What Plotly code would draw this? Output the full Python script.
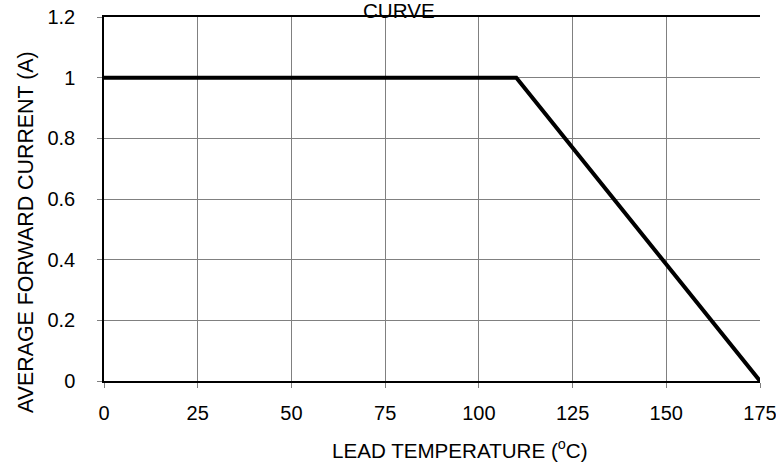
import plotly.graph_objects as go

temp_c = [0, 110, 175]
current_a = [1.0, 1.0, 0.0]
x_ticks = [0, 25, 50, 75, 100, 125, 150, 175]
y_ticks = [0, 0.2, 0.4, 0.6, 0.8, 1, 1.2]
y_tick_labels = ["0", "0.2", "0.4", "0.6", "0.8", "1", "1.2"]

fig = go.Figure()
fig.add_trace(go.Scatter(x=temp_c, y=current_a, mode="lines",
                         line=dict(color="black", width=4), showlegend=False,
                         cliponaxis=False))

fam = "Liberation Sans, Arial"
font = dict(family=fam, size=20, color="black")
L, R, T, B = 104, 16, 17, 83
W, H = 776, 464
pw, ph = W - L - R, H - T - B

fig.update_layout(
    width=W, height=H,
    margin=dict(l=L, r=R, t=T, b=B, autoexpand=False),
    paper_bgcolor="white", plot_bgcolor="white",
    font=font,
    xaxis=dict(range=[0, 175], tickvals=x_ticks, ticks="outside", ticklen=5,
               tickcolor="#7f7f7f", showgrid=True, gridcolor="#808080", gridwidth=1,
               showline=True, linecolor="black", linewidth=1.5, mirror=True,
               zeroline=False, tickfont=font, automargin=False,
               ticklabelstandoff=8, ticklabeloverflow="allow"),
    yaxis=dict(range=[0, 1.2], tickvals=y_ticks, ticktext=y_tick_labels,
               ticks="outside", ticklen=5, tickcolor="#7f7f7f",
               showgrid=True, gridcolor="#808080", gridwidth=1,
               showline=True, linecolor="black", linewidth=1.5, mirror=False,
               zeroline=False, tickfont=font, automargin=False,
               ticklabelstandoff=18, ticklabeloverflow="allow"),
    annotations=[
        dict(text="LEAD TEMPERATURE (<sup>o</sup>C)", xref="paper", yref="paper",
             x=(460 - L) / pw, y=-(449 - (H - B)) / ph, showarrow=False,
             xanchor="center", yanchor="middle",
             font=dict(family=fam, size=20.6, color="black")),
        dict(text="AVERAGE FORWARD CURRENT (A)", xref="paper", yref="paper",
             x=-(L - 26) / pw, y=((H - B) - 232) / ph, showarrow=False,
             xanchor="center", yanchor="middle", textangle=-90,
             font=dict(family=fam, size=21.4, color="black")),
        dict(text="CURVE", xref="paper", yref="paper",
             x=(399 - L) / pw, y=1 + (T - 24) / ph, showarrow=False,
             xanchor="center", yanchor="bottom",
             font=dict(family=fam, size=20.6, color="black")),
    ],
)
fig.write_html("out.html")
